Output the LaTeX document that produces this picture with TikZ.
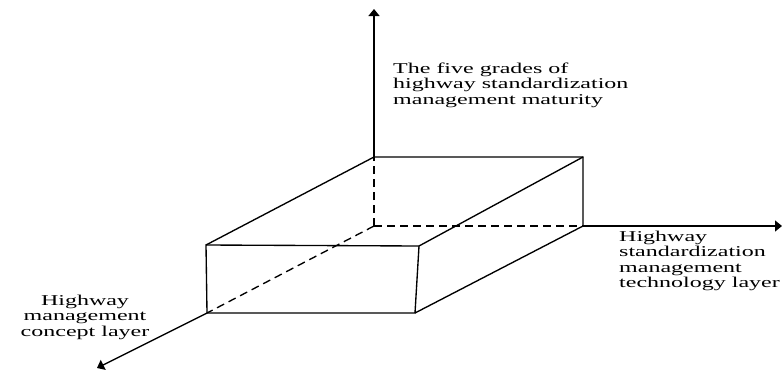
\documentclass[tikz,border=0pt]{standalone}
\usepackage{fontspec}
\setmainfont[FakeStretch=1.6]{Liberation Serif}
\usetikzlibrary{arrows.meta}
\begin{document}
\begin{tikzpicture}[x=1pt,y=-1pt,
  axisline/.style={line width=1.35pt,-{Triangle[length=7pt,width=11pt]}},
  edge/.style={line width=1.35pt},
  hidden/.style={line width=1.35pt,dash pattern=on 8pt off 5pt},
  lbl/.style={inner sep=0pt,font=\fontsize{15}{15.5}\selectfont}]
\useasboundingbox (0,0) rectangle (783,370);
% corners
\coordinate (O) at (374,226);
\coordinate (btl) at (374,157);
\coordinate (btr) at (583,157);
\coordinate (bbr) at (583,226);
\coordinate (ftl) at (206,245);
\coordinate (ftr) at (419,246);
\coordinate (fbl) at (207,313);
\coordinate (fbr) at (415,313);
\coordinate (ztip) at (374,9);
\coordinate (xtip) at (782,226);
\coordinate (ytip) at (97,368);
% axes
\draw[axisline] (btl) -- (ztip);
\draw[axisline] (bbr) -- (xtip);
\draw[axisline] (fbl) -- (ytip);
% hidden edges
\draw[hidden] (O) -- (btl);
\draw[hidden] (O) -- (bbr);
\draw[hidden] (O) -- (fbl);
% visible edges
\draw[edge] (ftl) -- (ftr) -- (fbr) -- (fbl) -- cycle;
\draw[edge] (ftl) -- (btl) -- (btr) -- (bbr) -- (fbr);
\draw[edge] (ftr) -- (btr);
% labels
\node[lbl,align=left,anchor=west] (zl) at (393,85) {The five grades of\\highway standardization\\management maturity};
\node[lbl,align=left,anchor=west] (xl) at (619,261) {Highway\\standardization\\management\\technology layer};
\node[lbl,align=center,anchor=center] (yl) at (85,317) {Highway\\management\\concept layer};
\end{tikzpicture}
\end{document}
